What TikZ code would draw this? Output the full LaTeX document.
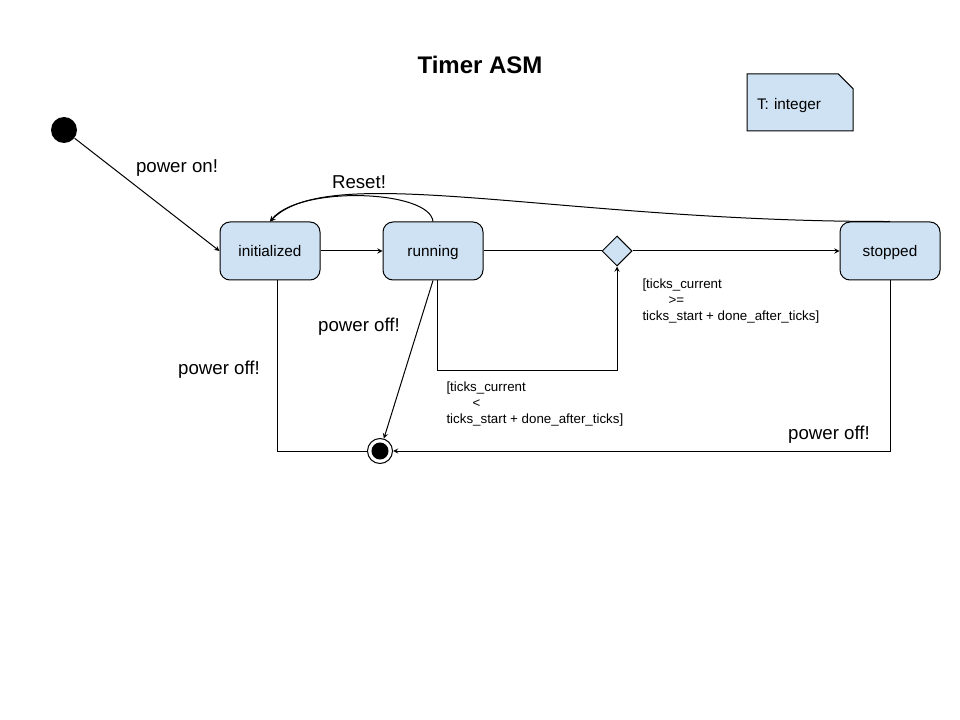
\documentclass[tikz,border=0pt]{standalone}
\usepackage{fontspec}
\setmainfont{Liberation Sans}
\usetikzlibrary{shapes.geometric,shapes.misc}
\definecolor{stateblue}{HTML}{CFE2F3}

\begin{document}
\begin{tikzpicture}[->,>=stealth,x=0.75pt,y=-0.75pt,line width=0.75pt,node distance=122.25pt,
    state node/.style={rectangle,rounded corners=7.5pt,draw,fill=stateblue,minimum width=75pt,minimum height=43.5pt,text height=10pt,text depth=1pt,font=\fontsize{11.5}{13}\selectfont},
    choice/.style={diamond,draw,fill=stateblue,minimum size=22.5pt,inner sep=0pt},
    init dot/.style={circle,fill=black,minimum size=19.5pt,inner sep=0pt},
    final dot/.style={circle,draw,minimum size=18.75pt,inner sep=0pt,path picture={\fill (path picture bounding box.center) circle (6.4pt);}},
    event/.style={font=\fontsize{14}{16}\selectfont},
    guard/.style={font=\fontsize{10}{12}\selectfont,align=left,anchor=north west,inner sep=0pt},
    memo/.style={chamfered rectangle,chamfered rectangle corners=north east,chamfered rectangle xsep=7.5pt,draw,fill=stateblue,
        minimum height=42.75pt,inner xsep=0pt,text width=64.5pt,text height=10pt,text depth=0pt,align=left,font=\fontsize{11.5}{13}\selectfont}]
    \useasboundingbox (0,0) rectangle (960,720);

    \node[font=\fontsize{18}{20}\selectfont\bfseries] (title) at (480,65) {Timer ASM};
    \node[memo] (vars) at (800,102.5) {T: integer};

    \node[init dot] (start) at (64,130) {};
    \node[state node] (init) at (270,251) {initialized};
    \node[state node] (run) [right of = init] {running};
    \node[choice] (dec) [right of = run, xshift = 15.75pt] {};
    \node[state node] (stop) [right of = dec, xshift = 82.5pt] {stopped};
    \node[final dot] (final) at (380,451) {};

    \node[event] (on) at (177,168) {power on!};
    \node[event] (reset) at (359,182) {Reset!};
    \node[event] (offrun) at (359,327) {power off!};
    \node[event] (offinit) at (219,370) {power off!};
    \node[event] (offstop) at (829,435) {power off!};

    \node[guard] (lt) at (446,381) {[ticks\_current\\\hspace*{19.5pt}<\\ticks\_start + done\_after\_ticks]};
    \node[guard] (ge) at (642,278) {[ticks\_current\\\hspace*{19.5pt}>=\\ticks\_start + done\_after\_ticks]};

    \path
        (start) edge (init.west)
        (init) edge (run)
        (run) edge[-] (dec)
        (dec) edge (stop)
        (run.south) edge (final)
        ;

    \draw (run.north) .. controls (430,190) and (300,185) .. (init.north);
    \draw (stop.north) .. controls (560,222) and (330,160) .. (init.north);
    \draw ([xshift=3pt]run.south) -- ++(0,90) -| (dec.south);
    \draw[-] ([xshift=5.25pt]init.south) |- (final);
    \draw (stop.south) |- (final);
\end{tikzpicture}
\end{document}
